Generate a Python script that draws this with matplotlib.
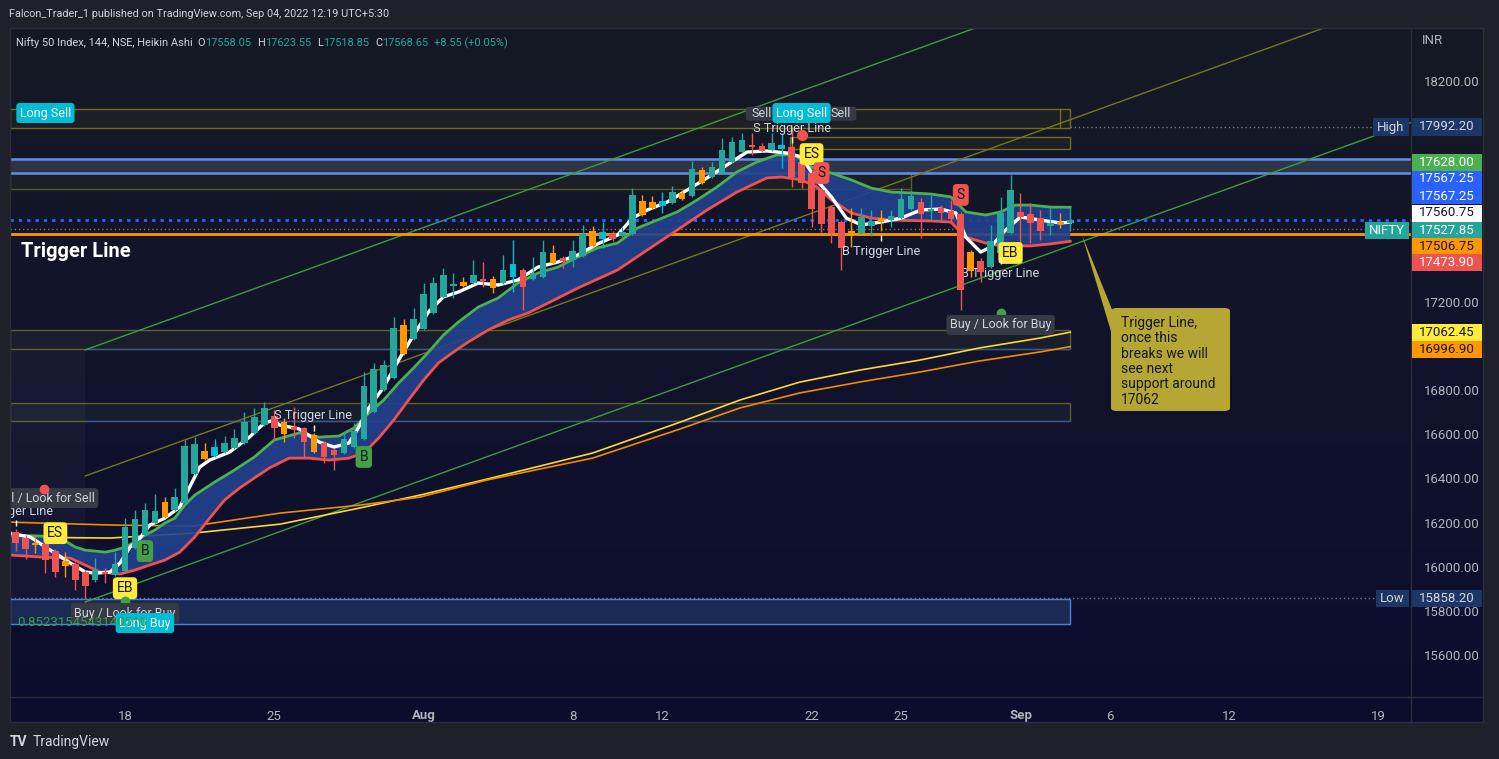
import numpy as np
import matplotlib
matplotlib.use('Agg')
import matplotlib.pyplot as plt
from matplotlib.patches import Rectangle, FancyBboxPatch, Polygon
from matplotlib.lines import Line2D
from matplotlib.colors import LinearSegmentedColormap

plt.rcParams['font.family'] = ['Roboto', 'DejaVu Sans']

W, H = 1499, 759

# ---- Heikin Ashi candles (bar index 0 = 18 Jul, 3 bars per session) ----
bar_idx = list(range(-11, 96))
opens = [16157, 16130, 16107, 16103, 16071, 16026, 16012, 15976, 15940, 15976, 15962,
         15980, 16085, 16143, 16198, 16293, 16257, 16288, 16420, 16524, 16501,
         16519, 16538, 16560, 16606, 16642, 16683, 16655, 16633, 16628, 16596,
         16560, 16528, 16515, 16542, 16578, 16701, 16800, 16855, 17095, 17031,
         17077, 17149, 17222, 17271, 17290, 17285, 17303, 17303, 17285, 17312,
         17344, 17303, 17312, 17421, 17398, 17389, 17407, 17521, 17484, 17507,
         17498, 17507, 17656, 17652, 17634, 17647, 17693, 17679, 17797, 17765,
         17783, 17833, 17878, 17910, 17906, 17887, 17892, 17901, 17833, 17783,
         17706, 17629, 17561, 17521, 17511, 17543, 17579, 17570, 17579, 17620,
         17652, 17611, 17625, 17611, 17598, 17425, 17385, 17357, 17421, 17511,
         17607, 17598, 17579, 17543, 17561, 17558.05]
closes = [16107, 16080, 16098, 16030, 15976, 16003, 15940, 15912, 15985, 15967, 16012,
          16180, 16216, 16257, 16252, 16225, 16316, 16547, 16556, 16488, 16542,
          16560, 16583, 16655, 16678, 16719, 16628, 16601, 16619, 16565, 16519,
          16497, 16506, 16578, 16615, 16818, 16895, 16914, 17081, 16963, 17122,
          17235, 17285, 17321, 17281, 17271, 17321, 17294, 17262, 17344, 17371,
          17267, 17330, 17425, 17376, 17385, 17430, 17507, 17453, 17516, 17484,
          17516, 17684, 17593, 17625, 17656, 17697, 17666, 17801, 17738, 17811,
          17887, 17924, 17933, 17901, 17883, 17919, 17910, 17765, 17738, 17620,
          17552, 17511, 17444, 17511, 17584, 17566, 17561, 17588, 17666, 17679,
          17598, 17620, 17602, 17575, 17253, 17339, 17335, 17475, 17602, 17706,
          17584, 17557, 17521, 17557, 17552, 17568.65]
highs = [16171, 16143, 16134, 16121, 16080, 16066, 16021, 15985, 16039, 15994, 16066,
         16220, 16257, 16288, 16329, 16316, 16356, 16574, 16587, 16560, 16578,
         16592, 16624, 16701, 16719, 16746, 16710, 16674, 16723, 16633, 16606,
         16569, 16538, 16610, 16651, 16882, 16923, 16936, 17131, 17122, 17172,
         17285, 17312, 17353, 17330, 17312, 17389, 17380, 17317, 17412, 17480,
         17353, 17403, 17480, 17457, 17407, 17480, 17548, 17543, 17561, 17521,
         17538, 17715, 17684, 17679, 17697, 17724, 17706, 17838, 17811, 17833,
         17942, 17947, 17964, 17964, 17919, 17964, 17964, 17992.2, 17842, 17797,
         17715, 17638, 17570, 17625, 17625, 17616, 17616, 17616, 17715, 17706,
         17670, 17684, 17638, 17661, 17607, 17435, 17398, 17548, 17675, 17774,
         17693, 17647, 17616, 17629, 17602, 17623.55]
lows = [16071, 16035, 16062, 15971, 15953, 15953, 15894, 15858.2, 15931, 15926, 15958,
        15976, 16080, 16139, 16193, 16220, 16252, 16284, 16415, 16483, 16497,
        16515, 16533, 16556, 16601, 16637, 16574, 16565, 16583, 16492, 16515,
        16470, 16438, 16510, 16538, 16574, 16696, 16796, 16850, 16959, 17027,
        17072, 17145, 17217, 17217, 17267, 17281, 17267, 17240, 17281, 17244,
        17163, 17299, 17308, 17371, 17353, 17357, 17403, 17448, 17444, 17475,
        17493, 17502, 17588, 17620, 17602, 17643, 17661, 17674, 17733, 17761,
        17779, 17829, 17874, 17865, 17878, 17883, 17806, 17720, 17715, 17539,
        17516, 17466, 17344, 17448, 17507, 17498, 17521, 17539, 17575, 17616,
        17489, 17570, 17570, 17557, 17163, 17312, 17290, 17353, 17416, 17507,
        17466, 17466, 17480, 17502, 17534, 17518.85]
candle_kind = list("rrorrorrtrt" "ttttotttoc" "tttttrorro" "rrttttttot" "ttttotrotc"
                   "rttorttocr" "ttooctotot" "tttrrtcrrr" "rrrottottt" "rtrrrorttt" "rrrtot")

# ---- indicator lines (bar index, price) ----
fast_x = [-11.6, -9.5, -7.5, -5.5, -4, -3, -1.5, -0.5, 0.5, 1.5, 2.5, 4, 5.5, 6.5, 7.5, 8.5,
          10.5, 12.5, 14, 15, 15.5, 17.5, 19.5, 21, 22.5, 23.5, 24.5, 26, 27.5, 29, 30.5, 32,
          33.5, 35.5, 37.5, 39.5, 41.5, 43.5, 45.5, 47.5, 49.5, 51, 52.5, 54.5, 56.5, 58.5,
          60.5, 62.5, 64.5, 66.5, 68, 69.5, 71, 72.5, 74, 76, 78, 80, 82, 83.5, 84.5, 86, 87,
          88.5, 90, 92, 94, 95]
fast_y = [16152, 16134, 16075, 16017, 15976, 15971, 15976, 16017, 16089, 16130, 16189, 16220,
          16270, 16361, 16451, 16483, 16519, 16587, 16651, 16664, 16642, 16624, 16565, 16542,
          16560, 16633, 16719, 16814, 16936, 17049, 17154, 17222, 17244, 17285, 17276, 17299,
          17357, 17380, 17412, 17462, 17502, 17579, 17616, 17652, 17706, 17761, 17820, 17878,
          17883, 17874, 17856, 17752, 17675, 17579, 17548, 17561, 17579, 17616, 17620, 17602,
          17493, 17425, 17448, 17525, 17584, 17570, 17557, 17560.75]
upper_x = [-11.6, -8.5, -6.5, -5, -4, -3, -2, -1, 0, 1, 2, 3, 4, 5, 6, 7, 9, 11, 13, 15, 17.5,
           19.5, 21.5, 23, 24.5, 26, 27.5, 29, 30.5, 32, 33.5, 35.5, 37.5, 39.5, 41.5, 43.5,
           45.5, 47.5, 49.5, 51.5, 53.5, 55.5, 57.5, 59.5, 61.5, 63.5, 65.5, 67.3, 69, 71, 73,
           75, 77, 79, 81, 83, 84.5, 86.5, 88, 89.5, 91, 93, 95]
upper_y = [16143, 16139, 16130, 16089, 16075, 16071, 16066, 16075, 16089, 16112, 16143, 16166,
           16198, 16220, 16279, 16324, 16383, 16438, 16497, 16574, 16606, 16587, 16592, 16628,
           16696, 16755, 16832, 16900, 16972, 17049, 17108, 17176, 17217, 17285, 17330, 17357,
           17403, 17444, 17466, 17534, 17570, 17607, 17661, 17720, 17788, 17833, 17865, 17865,
           17810, 17783, 17752, 17715, 17697, 17693, 17688, 17675, 17607, 17593, 17607, 17638,
           17638, 17629, 17628]
lower_x = [-11.6, -8.5, -5.5, -2.5, -0.5, 1, 2.5, 4, 5.5, 7, 8.5, 10, 11.5, 13, 14.5, 16.5,
           18.5, 20.5, 22.5, 24, 25.5, 27, 28.5, 30, 31.5, 33, 34.5, 36.5, 38.5, 40.5, 42.5,
           45.5, 49.5, 52.5, 55.5, 58.5, 61.5, 64.5, 66, 68, 69.5, 71, 73, 75, 77, 81, 83,
           84.5, 86.5, 88, 91, 93, 95]
lower_y = [16053, 16044, 16039, 15976, 15967, 15985, 16008, 16030, 16066, 16134, 16220, 16302,
           16356, 16402, 16447, 16492, 16492, 16483, 16492, 16515, 16583, 16664, 16755, 16845,
           16923, 16972, 17018, 17072, 17117, 17149, 17194, 17262, 17344, 17435, 17525, 17616,
           17697, 17761, 17765, 17752, 17720, 17661, 17602, 17579, 17570, 17566, 17561, 17493,
           17466, 17453, 17453, 17462, 17473.9]
ma_x = [-11.6, -1.5, 6.8, 15.6, 23.6, 29.6, 36.4, 47, 55.8, 61.8, 67.8, 73.9, 79.9, 85.9, 92, 95]
ma_yellow = [16134, 16130, 16152, 16193, 16266, 16324, 16397, 16515, 16655, 16755, 16836,
             16891, 16936, 16991, 17036, 17062.45]
ma_orange = [16202, 16189, 16184, 16243, 16279, 16315, 16393, 16492, 16624, 16719, 16787,
             16837, 16882, 16932, 16973, 16996.9]

# ---- levels ----
trigger_level = 17506.75
zone_top, zone_bot = 17847, 17784
high_level, low_level = 17992.20, 15858.20
nifty_close = 17527.85
ha_close = 17568.65
channel_start = -4
channel_upper = 16982
channel_lower = 15840
channel_slope = 16.3

# price ticks that are not hidden behind the axis tags
price_ticks = [15600, 15800, 16000, 16200, 16400, 16600, 16800, 17200, 18200]
tick_pos = [0, 15, 30, 45, 54, 69, 78, 90, 99, 111, 126]
tick_lab = ['18', '25', 'Aug', '8', '12', '22', '25', 'Sep', '6', '12', '19']

TEAL, RED, ORANGE, CYAN = '#26a69a', '#ef5350', '#ff9800', '#00bcd4'
kind_col = {'t': TEAL, 'r': RED, 'o': ORANGE, 'c': CYAN}

fig = plt.figure(figsize=(W / 100, H / 100), dpi=100, facecolor='#1e2129')


def fp(x, y):
    return x / W, 1 - y / H


# gradient panel background
bg = fig.add_axes([10 / W, 1 - 722 / H, 1473 / W, 694 / H])
cmap = LinearSegmentedColormap.from_list('bg', ['#151924', '#11132c', '#0c0d2e'])
bg.imshow(np.linspace(0, 1, 256).reshape(-1, 1), aspect='auto', cmap=cmap, extent=[0, 1, 0, 1])
bg.axis('off')

ax = fig.add_axes([10 / W, 1 - 697 / H, 1401 / W, 669 / H])
ax.set_facecolor('none')
ax.set_xlim(-11.56, 129.25)
ax.set_ylim(15410, 18440)
for s in ax.spines.values():
    s.set_visible(False)

# boxes / zones
x0, x1 = -11.56, 95
ax.add_patch(Rectangle((x0, 17985), x1 - x0, 86, fc='#1d1f24', ec='#6f6c22', lw=1, zorder=1))
ax.plot([94, 94], [17985, 18071], color='#6f6c22', lw=1, zorder=1)
ax.add_patch(Rectangle((66.8, 17892), x1 - 66.8, 54, fc='#1d1f24', ec='#6f6c22', lw=1, zorder=1))
ax.axhspan(zone_bot, zone_top, color='#2e3547', zorder=1)
ax.axhline(zone_top, color='#5b8fe8', lw=1.8, zorder=2)
ax.axhline(zone_bot, color='#5b8fe8', lw=1.8, zorder=2)
ax.add_patch(Rectangle((x0, 17712), 79 - x0, 72, fc='#1b1e24', ec='#5b5a2a', lw=1, zorder=1))
ax.add_patch(Rectangle((x0, 16985), x1 - x0, 87, fc='#1a1e2c', ec='#5f5d2a', lw=1, zorder=1))
ax.plot([-4, x1], [16985, 16985], color='#36558e', lw=1, zorder=1)
ax.add_patch(Rectangle((x0, 16660), x1 - x0, 81, fc='#171c30', ec='#5f5d2a', lw=1, zorder=1))
ax.plot([-4, x1], [16660, 16660], color='#36558e', lw=1, zorder=1)
ax.add_patch(Rectangle((x0, 15740), x1 - x0, 114, fc='#1b2a55', ec='#4d7fd6', lw=1, zorder=1))
ax.add_patch(Rectangle((x0, 15854), channel_start - x0, 16985 - 15854, fc='white', alpha=0.03,
                       ec='none', zorder=1))

# channel
cx = np.array([channel_start, 135])
ax.plot(cx, channel_upper + channel_slope * (cx - channel_start), color='#3f9a3f', lw=1, zorder=2)
ax.plot(cx, channel_lower + channel_slope * (cx - channel_start), color='#3f9a3f', lw=1, zorder=2)
ax.plot(cx, (channel_upper + channel_lower) / 2 + channel_slope * (cx - channel_start),
        color='#77761f', lw=1, zorder=2)

# level lines
ax.axhline(trigger_level, color=ORANGE, lw=2, zorder=3)
ax.axhline(ha_close, color='#2962ff', lw=2, ls=(0, (1.2, 1.8)), zorder=3)
ax.plot([x0, 124.8], [nifty_close, nifty_close], color='#787b86', lw=1, ls=(0, (1, 2)), zorder=3)
ax.plot([95, 126.2], [high_level, high_level], color='#787b86', lw=1, ls=(0, (1, 2)), zorder=3)
ax.plot([x0, 126.4], [low_level, low_level], color='#787b86', lw=1, ls=(0, (1, 2)), zorder=3)

# moving averages
ax.plot(ma_x, ma_yellow, color='#fdd835', lw=1.2, zorder=3)
ax.plot(ma_x, ma_orange, color='#f08c00', lw=1.2, zorder=3)

# ribbon
poly = list(zip(upper_x, upper_y)) + list(zip(lower_x, lower_y))[::-1]
ax.add_patch(Polygon(poly, closed=True, fc='#22418f', ec='none', alpha=0.9, zorder=3))
ax.plot(upper_x, upper_y, color='#4caf50', lw=2, zorder=4)
ax.plot(lower_x, lower_y, color='#f0504f', lw=2, zorder=4)
ax.plot(fast_x, fast_y, color='white', lw=2.4, zorder=4)

# candles
cols = [kind_col[k] for k in candle_kind]
o, c = np.array(opens), np.array(closes)
ax.vlines(bar_idx, lows, highs, colors=cols, lw=1, zorder=5)
ax.bar(bar_idx, np.maximum(np.abs(c - o), 5), bottom=np.minimum(o, c), width=0.66,
       color=cols, lw=0, zorder=6)


# chart labels
def lab(xi, yv, txt, fc, tc, fs=9, z=9):
    ax.text(xi, yv, txt, ha='center', va='center', fontsize=fs, color=tc, zorder=z, clip_on=True,
            bbox=dict(boxstyle='round,pad=0.28', fc=fc, ec='none'))


def note(xi, yv, txt, z=9):
    ax.text(xi, yv, txt, fontsize=9.2, color='#d1d4dc', ha='center', va='center', zorder=z,
            clip_on=True)


ax.text(-10.5, 17430, 'Trigger Line', fontsize=14.5, fontweight='bold', color='white',
        va='center', ha='left', zorder=9)
note(-11.2, 16248, 'S Trigger Line')
lab(-8.1, 16311, 'Sell / Look for Sell', '#363a45', '#d1d4dc')
ax.plot(-8.1, 16352, 'o', color=RED, ms=6, zorder=9)
lab(-7, 16152, 'ES', '#ffeb3b', '#131722', 10)
lab(2, 16071, 'B', '#43a047', '#131722', 10)
lab(0, 15903, 'EB', '#ffeb3b', '#131722', 10)
ax.plot(0, 15845, 'o', color='#43a047', ms=6, zorder=9)
lab(0, 15790, 'Buy / Look for Buy', '#363a45', '#d1d4dc')
lab(2, 15745, 'Long Buy', CYAN, 'white')
ax.text(-10.8, 15746, '0.8523154543140516', fontsize=9.5, color='#3a9a44', ha='left', va='center',
        zorder=10)
lab(-8, 18055, 'Long Sell', CYAN, 'white')
note(18.9, 16687, 'S Trigger Line')
lab(24, 16497, 'B', '#43a047', '#131722', 10)
# "Sell / Look for Sell" tag partly covered by the "Long Sell" tag
ax.add_patch(FancyBboxPatch((62.4, 18020), 11.1, 64, boxstyle='round,pad=0,rounding_size=0.4',
                            mutation_aspect=20, fc='#363a45', ec='none', zorder=8))
ax.text(63, 18051, 'Sell', fontsize=9, color='#d1d4dc', ha='left', va='center', zorder=9)
ax.text(73, 18051, 'Sell', fontsize=9, color='#d1d4dc', ha='right', va='center', zorder=9)
lab(68, 18055, 'Long Sell', CYAN, 'white', z=10)
note(67, 17987, 'S Trigger Line')
ax.plot(68, 17955, 'o', color=RED, ms=7, zorder=9)
lab(69, 17869, 'ES', '#ffeb3b', '#131722', 10)
lab(70, 17783, 'S', RED, '#131722', 10)
lab(84, 17684, 'S', RED, '#131722', 10)
note(76, 17430, 'B Trigger Line')
note(88, 17330, 'B Trigger Line', z=4)
lab(89, 17421, 'EB', '#ffeb3b', '#131722', 10)
ax.plot(88, 17149, 'o', color='#43a047', ms=6, zorder=9)
lab(88, 17095, 'Buy / Look for Buy', '#363a45', '#d1d4dc')
# small trigger markers
ax.plot([-11, 19, 67, 76, 88], [16200, 16630, 17935, 17489, 17383], ls='none', marker='|',
        ms=4, mew=1, color='white', zorder=9)

# ticks
ax.yaxis.tick_right()
ax.set_yticks(price_ticks, [f'{v:.2f}' for v in price_ticks])
ax.set_xticks(tick_pos, tick_lab)
ax.tick_params(axis='y', length=0, pad=9, labelsize=9.5, labelcolor='#b2b5be')
ax.tick_params(axis='x', length=0, pad=9, labelsize=9.5, labelcolor='#b2b5be')
for t in ax.get_xticklabels():
    if t.get_text() in ('Aug', 'Sep'):
        t.set_fontweight('bold')

# separators
fig.add_artist(Line2D([1411 / W, 1411 / W], [1 - 722 / H, 1 - 28 / H], color='#2a2e39', lw=1))
fig.add_artist(Line2D([10 / W, 1483 / W], [1 - 697 / H, 1 - 697 / H], color='#2a2e39', lw=1))
fig.add_artist(Rectangle(fp(10, 722), 1473 / W, 694 / H, fill=False, ec='#2a2e39', lw=1))


# right axis price labels
def axis_tag(y, txt, fc, tc):
    fig.add_artist(Rectangle(fp(1412, y + 8.5), 70 / W, 17 / H, fc=fc, ec='none', zorder=3))
    fig.text(*fp(1447, y), txt, ha='center', va='center', fontsize=9.5, color=tc, zorder=4)


def name_tag(x, w, y, txt, fc, tc):
    fig.add_artist(Rectangle(fp(x, y + 8.5), w / W, 17 / H, fc=fc, ec='none', zorder=3))
    fig.text(*fp(x + w / 2, y), txt, ha='center', va='center', fontsize=9.5, color=tc, zorder=4)


axis_tag(127, f'{high_level:.2f}', '#1c3766', '#d1d4dc')
name_tag(1373, 36, 127, 'High', '#1c3766', '#d1d4dc')
axis_tag(162, '17628.00', '#4caf50', 'white')
axis_tag(179, '17567.25', '#2962ff', 'white')
axis_tag(196, '17567.25', '#2962ff', 'white')
axis_tag(213, '17560.75', 'white', '#131722')
axis_tag(230, f'{nifty_close:.2f}', '#26a69a', 'white')
name_tag(1365, 44, 230, 'NIFTY', '#26a69a', 'white')
axis_tag(246, f'{trigger_level:.2f}', ORANGE, '#131722')
axis_tag(263, '17473.90', RED, 'white')
axis_tag(333, '17062.45', '#ffeb3b', '#131722')
axis_tag(350, '16996.90', ORANGE, '#131722')
axis_tag(598, f'{low_level:.2f}', '#1c3766', '#d1d4dc')
name_tag(1376, 33, 598, 'Low', '#1c3766', '#d1d4dc')
fig.text(*fp(1422, 41), 'INR', fontsize=9.5, color='#b2b5be', va='center')

# callout
fig.add_artist(Polygon([fp(1082, 235), fp(1113, 312), fp(1113, 338)], closed=True,
                       fc='#b6a735', ec='none', zorder=3))
fig.add_artist(FancyBboxPatch(fp(1111, 411), 119 / W, 103 / H, boxstyle='round,pad=0,rounding_size=0.004',
                              fc='#b6a735', ec='none', zorder=3))
fig.text(*fp(1121, 316), 'Trigger Line,\nonce this\nbreaks we will\nsee next\nsupport around\n17062',
         fontsize=10, color='#131722', va='top', ha='left', linespacing=1.12, zorder=4)

# header / legend
fig.text(*fp(9, 14), 'Falcon_Trader_1 published on TradingView.com, Sep 04, 2022 12:19 UTC+5:30',
         fontsize=7.8, color='#d1d4dc', va='center')
legend = [('Nifty 50 Index, 144, NSE, Heikin Ashi', '#d1d4dc', 5), ('O', '#d1d4dc', 0),
          ('17558.05', TEAL, 6), ('H', '#d1d4dc', 0), ('17623.55', TEAL, 6),
          ('L', '#d1d4dc', 0), ('17518.85', TEAL, 6), ('C', '#d1d4dc', 0),
          ('17568.65', TEAL, 6), ('+8.55 (+0.05%)', TEAL, 0)]
renderer = fig.canvas.get_renderer()
lx = 16
for lt, lc, gap in legend:
    t = fig.text(*fp(lx, 43), lt, fontsize=7.9, color=lc, va='center')
    lx += t.get_window_extent(renderer).width + gap

fig.text(*fp(10, 742), 'TV', fontsize=10, fontweight='bold', color='#d1d4dc', va='center')
fig.text(*fp(33, 742), 'TradingView', fontsize=10, color='#d1d4dc', va='center')

fig.savefig('out.png', dpi=100, facecolor=fig.get_facecolor())
